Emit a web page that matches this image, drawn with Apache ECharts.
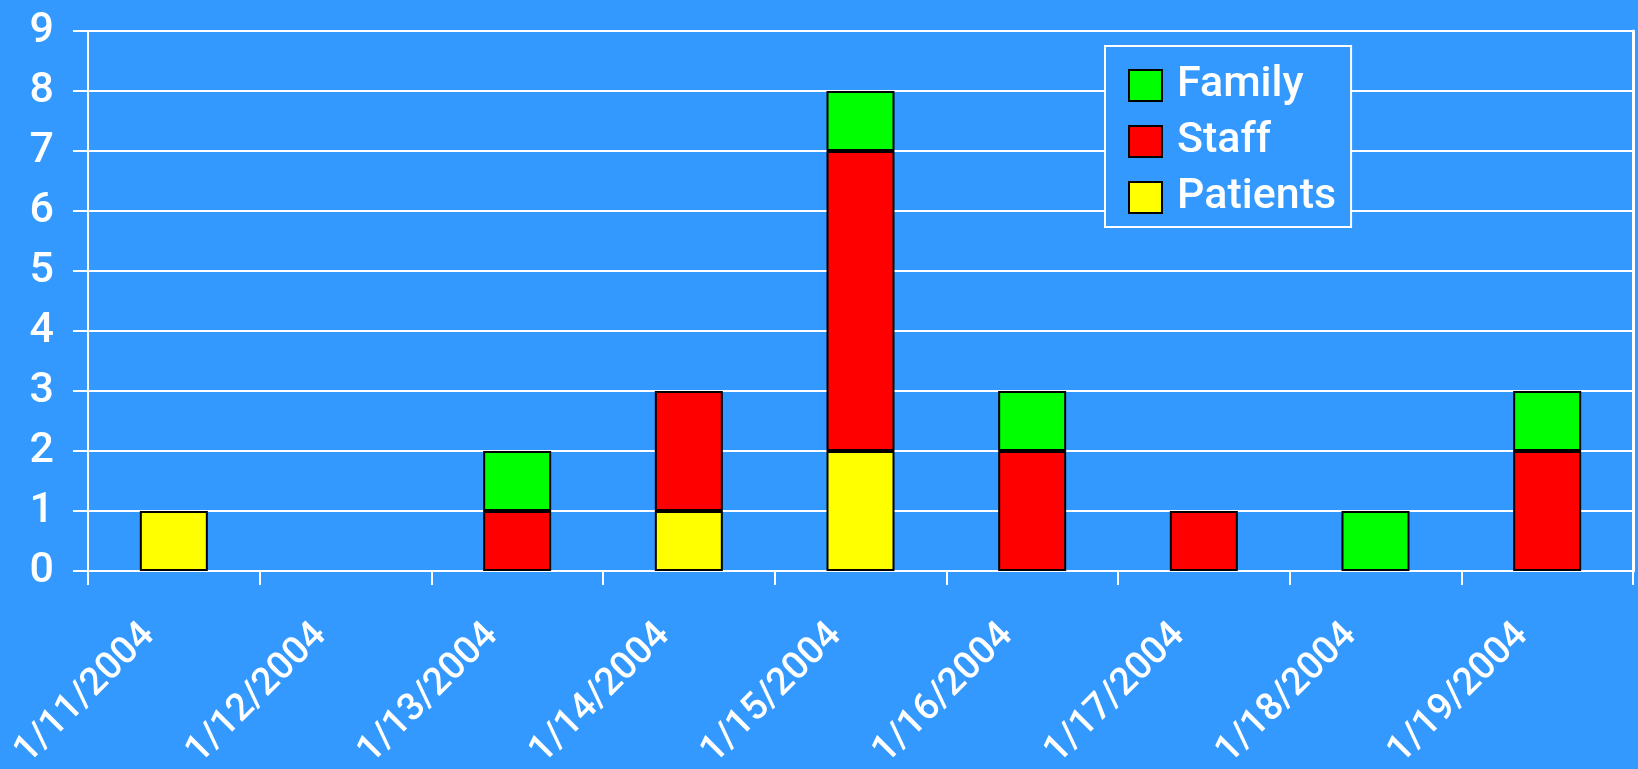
<!DOCTYPE html>
<html>
<head>
<meta charset="utf-8">
<script src="https://cdn.jsdelivr.net/npm/echarts@6/dist/echarts.min.js"></script>
<style>
html,body{margin:0;padding:0;background:#3399FF;}
#chart{width:1638px;height:769px;}
</style>
</head>
<body>
<div id="chart"></div>
<script>
const categories = ['1/11/2004','1/12/2004','1/13/2004','1/14/2004','1/15/2004','1/16/2004','1/17/2004','1/18/2004','1/19/2004'];
const patients = [1,0,0,1,2,0,0,0,0];
const staff    = [0,0,1,2,5,2,1,0,2];
const family   = [0,0,1,0,1,1,0,1,1];
const legendOrder = ['Family','Staff','Patients'];

const FONT = 'Roboto';
const WEIGHT = 500;
const nz = arr => arr.map(v => v === 0 ? '-' : v);

function barSeries(name, data, color) {
  return {
    name: name,
    type: 'bar',
    stack: 'total',
    barWidth: 68,
    data: nz(data),
    itemStyle: { color: color, borderColor: '#000000', borderWidth: 2 },
    emphasis: { disabled: true }
  };
}

const chart = echarts.init(document.getElementById('chart'));
chart.setOption({
  backgroundColor: '#3399FF',
  animation: false,
  grid: { left: 88, right: 5, top: 31, bottom: 198, containLabel: false, outerBoundsMode: 'none' },
  legend: {
    data: legendOrder,
    orient: 'vertical',
    left: 1105,
    top: 46,
    padding: [18, 15, 8, 23],
    itemWidth: 33,
    itemHeight: 31,
    itemGap: 13,
    borderColor: '#FFFFFF',
    borderWidth: 2,
    backgroundColor: '#3399FF',
    icon: 'rect',
    textStyle: { color: '#FFFFFF', fontFamily: FONT, fontSize: 43, fontWeight: WEIGHT, lineHeight: 42, padding: [0, 0, 0, 10] }
  },
  xAxis: {
    type: 'category',
    data: categories,
    boundaryGap: true,
    axisLine: { lineStyle: { color: '#FFFFFF', width: 2 } },
    axisTick: { show: true, length: 14, alignWithLabel: false, lineStyle: { color: '#FFFFFF', width: 2 } },
    axisLabel: {
      color: '#FFFFFF', fontFamily: FONT, fontSize: 38, fontWeight: WEIGHT, rotate: 45, margin: 34,
      interval: 0, padding: [0, 35, 0, 0]
    },
    splitLine: { show: false }
  },
  yAxis: [{
    type: 'value',
    min: 0, max: 9, interval: 1,
    axisLine: { show: true, lineStyle: { color: '#FFFFFF', width: 2 } },
    axisTick: { show: true, length: 15, lineStyle: { color: '#FFFFFF', width: 2 } },
    axisLabel: { color: '#FFFFFF', fontFamily: FONT, fontSize: 43, fontWeight: WEIGHT, margin: 34 },
    splitLine: { show: true, lineStyle: { color: '#FFFFFF', width: 2 } }
  }, {
    type: 'value',
    position: 'right',
    min: 0, max: 9, interval: 1,
    axisLine: { show: true, lineStyle: { color: '#FFFFFF', width: 3 } },
    axisTick: { show: false },
    axisLabel: { show: false },
    splitLine: { show: false }
  }],
  series: [
    barSeries('Patients', patients, '#FFFF00'),
    barSeries('Staff', staff, '#FF0000'),
    barSeries('Family', family, '#00FF00')
  ]
});
</script>
</body>
</html>
